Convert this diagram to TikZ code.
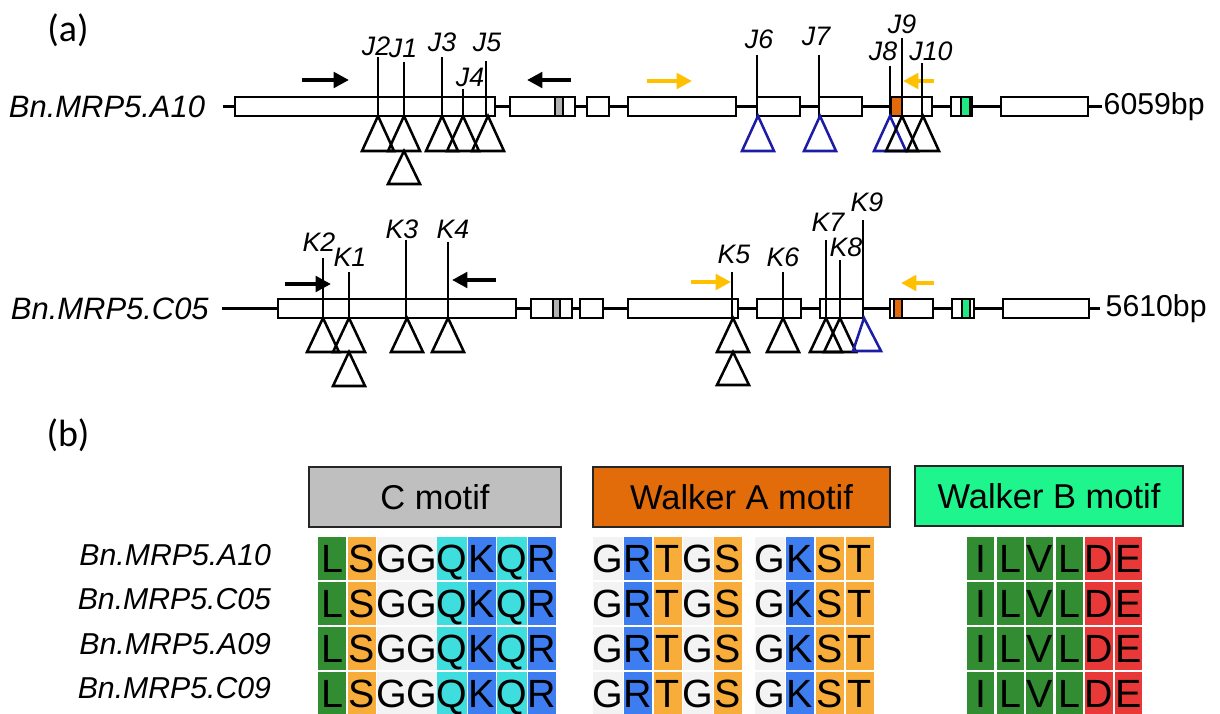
\documentclass[tikz,border=0pt]{standalone}
\usepackage{fontspec}
\setmainfont{Liberation Sans}
\newfontfamily\panelfont{Carlito}
\usepackage{xcolor}
\usetikzlibrary{arrows.meta}

\definecolor{stripegray}{RGB}{178,178,178}
\definecolor{stripeorange}{RGB}{226,106,12}
\definecolor{stripegreen}{RGB}{32,232,130}
\definecolor{primeryellow}{RGB}{255,192,0}
\definecolor{insblue}{RGB}{28,28,165}
\definecolor{boxgray}{RGB}{191,191,191}
\definecolor{boxorange}{RGB}{227,108,10}
\definecolor{boxgreen}{RGB}{30,245,140}
\definecolor{aagreen}{RGB}{50,140,50}
\definecolor{aaorange}{RGB}{248,172,58}
\definecolor{aawhite}{RGB}{243,243,243}
\definecolor{aacyan}{RGB}{62,222,222}
\definecolor{aablue}{RGB}{62,125,240}
\definecolor{aared}{RGB}{232,56,56}

\begin{document}
\begin{tikzpicture}[x=0.025cm, y=-0.025cm,
    exon/.style={draw=black, fill=white, line width=1.2pt},
    backbone/.style={line width=1.6pt},
    site/.style={line width=1pt},
    ins/.style={line width=1.8pt, line join=miter},
    primer/.style={line width=3.5pt, -{Triangle[length=11pt, width=11pt]}},
    genename/.style={anchor=west, font=\itshape\fontsize{22}{24}\selectfont},
    sitelabel/.style={font=\itshape\fontsize{19}{21}\selectfont, inner sep=0pt},
    bplabel/.style={anchor=west, font=\fontsize{21.5}{24}\selectfont, inner sep=1pt},
    panel/.style={font=\panelfont\fontsize{27}{29}\selectfont},
    motifbox/.style={draw=black!85, line width=1.2pt},
    motiftext/.style={font=\fontsize{24.5}{26}\selectfont},
    rowname/.style={anchor=east, font=\itshape\fontsize{21.5}{24}\selectfont},
    cell/.style={minimum width=0.7cm, minimum height=1.075cm, inner sep=0pt,
        text height=20pt, text depth=0pt, font=\fontsize{28}{28}\selectfont}]

\useasboundingbox (0,0) rectangle (1220,714);

% ---------- (a) Bn.MRP5.A10 ----------
\node[panel] (pa) at (68,30) {(a)};
\node[genename] (nA10) at (4,107) {Bn.MRP5.A10};
\draw[backbone] (223,106.5) -- (1102,106.5);
\foreach \a/\b in {235/495, 510/575, 587/609, 628/736, 757/800, 819/862, 891/932, 951/972, 1001/1088}
    \draw[exon] (\a,97) rectangle (\b,116);
\draw[exon, fill=stripegray] (555,97) rectangle (563,116);
\draw[exon, fill=stripeorange] (891,97) rectangle (902,116);
\draw[exon, fill=stripegreen] (961,97) rectangle (970,116);
\node[bplabel] (bpA10) at (1102,107) {6059bp};

\draw[primer] (302,80) -- (349,80); \draw[primer] (571,80) -- (527,80);
\draw[primer, primeryellow] (647,81) -- (692,81); \draw[primer, primeryellow] (934,81) -- (903,81);

\foreach \x/\t in {378/57, 404/62, 442/57, 463/89, 486/61, 757/55, 819/55, 890/66, 902/38, 922/63}
    \draw[site] (\x,\t) -- (\x,116);
\foreach \n/\x/\y in {J2/376/46, J1/403/48, J3/442/42, J5/487/42, J4/470/77, J6/759/39, J7/816/36, J8/883/51, J9/902/24, J10/931/51}
    \node[sitelabel] (\n) at (\x,\y) {\n};

\foreach \x/\c in {378/black, 404/black, 442/black, 463/black, 488/black, 758/insblue, 820/insblue, 890/insblue, 902/black, 923/black}
    \draw[ins, \c] (\x,116) -- ++(-16,35) -- ++(32,0) -- cycle;
\draw[ins] (404,151) -- ++(-16,33) -- ++(32,0) -- cycle;

% ---------- (a) Bn.MRP5.C05 ----------
\node[genename] (nC05) at (6,309) {Bn.MRP5.C05};
\draw[backbone] (222,308.5) -- (1100,308.5);
\foreach \a/\b in {278/516, 531/572, 580/603, 628/738, 757/801, 820/863, 890/933, 952/974, 1003/1089}
    \draw[exon] (\a,299) rectangle (\b,318);
\draw[exon, fill=stripegray] (553,299) rectangle (560,318);
\draw[exon, fill=stripeorange] (894,299) rectangle (902,318);
\draw[exon, fill=stripegreen] (962,299) rectangle (970,318);
\node[bplabel] (bpC05) at (1104,309) {5610bp};

\draw[primer] (285,284) -- (331,284); \draw[primer] (496,280) -- (452,280);
\draw[primer, primeryellow] (691,282) -- (731,282); \draw[primer, primeryellow] (934,283) -- (901,283);

\foreach \x/\t in {323/258, 349/272, 406/240, 448/242, 732/272, 783/272, 826/240, 840/260, 863/220}
    \draw[site] (\x,\t) -- (\x,318);
\foreach \n/\x/\y in {K2/319/242, K1/350/257, K3/402/229, K4/453/229, K5/734/254, K6/783/257, K7/828/222, K8/846/247, K9/867/202}
    \node[sitelabel] (\n) at (\x,\y) {\n};

\foreach \x/\c in {323/black, 349/black, 407/black, 448/black, 733/black, 783/black, 826/black, 840/black}
    \draw[ins, \c] (\x,318) -- ++(-16,34) -- ++(32,0) -- cycle;
\draw[ins, insblue] (864,318) -- (853,351) -- (881,351) -- cycle;
\draw[ins] (349,352) -- ++(-16,34) -- ++(32,0) -- cycle;
\draw[ins] (733,352) -- ++(-16,33) -- ++(32,0) -- cycle;

% ---------- (b) motifs ----------
\node[panel] (pb) at (68,435) {(b)};
\draw[motifbox, fill=boxgray] (309,467) rectangle (561,527);
\draw[motifbox, fill=boxorange] (593,467) rectangle (890,527);
\draw[motifbox, fill=boxgreen] (915,466) rectangle (1183,526);
\node[motiftext] (cmotif) at (435,497) {C motif};
\node[motiftext] (wamotif) at (741.5,497) {Walker A motif};
\node[motiftext] (wbmotif) at (1049,496) {Walker B motif};

\foreach \n [count=\r from 0] in {A10, C05, A09, C09}
    \node[rowname] (r\n) at (276,{555+44.5*\r}) {Bn.MRP5.\n};

\foreach \r in {0,...,3} {
    \foreach \l/\c [count=\i from 0] in {L/aagreen, S/aaorange, G/aawhite, G/aawhite, Q/aacyan, K/aablue, Q/aacyan, R/aablue}
        \node[cell, fill=\c] (c\r-\i) at ({332+30*\i},{558.5+45*\r}) {\l};
    \foreach \l/\c [count=\i from 0] in {G/aawhite, R/aablue, T/aaorange, G/aawhite, S/aaorange}
        \node[cell, fill=\c] (a\r-\i) at ({608+30*\i},{558.5+45*\r}) {\l};
    \foreach \l/\c [count=\i from 0] in {G/aawhite, K/aablue, S/aaorange, T/aaorange}
        \node[cell, fill=\c] (b\r-\i) at ({770+30*\i},{558.5+45*\r}) {\l};
    \foreach \l/\c [count=\i from 0] in {I/aagreen, L/aagreen, V/aagreen, L/aagreen, D/aared, E/aared}
        \node[cell, fill=\c, minimum width=0.675cm] (w\r-\i) at ({980.5+29.6*\i},{558.5+45*\r}) {\l};
}
\end{tikzpicture}
\end{document}
